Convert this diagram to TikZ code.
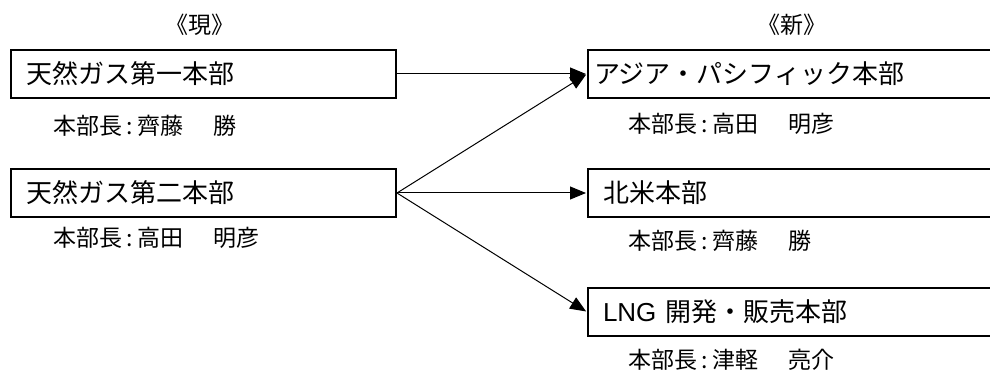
\documentclass[tikz,border=0pt]{standalone}
\usepackage{fontspec}
\usetikzlibrary{arrows.meta}
\newfontfamily\jp{Noto Sans CJK JP}
\newfontfamily\lat{Liberation Sans}
\newcommand{\colsep}{\kern4pt:\kern5pt}
\newcommand{\namesep}{\kern30pt}
\begin{document}
\begin{tikzpicture}[x=1pt,y=-1pt,
  box/.style={draw,line width=2pt,rectangle,anchor=north west,minimum height=48pt,
    align=left,inner ysep=0pt,font=\jp\fontsize{26}{30}\selectfont},
  lbox/.style={box,inner xsep=15pt,text width=355pt},
  rbox/.style={box,text width=430pt-2*#1,inner xsep=#1},
  lab/.style={anchor=west,inner sep=0pt,font=\jp\fontsize{23}{26}\selectfont},
  head/.style={inner sep=0pt,font=\jp\fontsize{23}{26}\selectfont},
  conn/.style={line width=1pt,-{Triangle[length=16pt,width=13pt]},shorten >=1pt}]
\useasboundingbox (0,0) rectangle (990,374);
\clip (0,0) rectangle (990,374);
\fill[white] (0,0) rectangle (990,374);
\node[head] (hgen) at (200,25) {《現》};
\node[head] (hnew) at (792,25) {《新》};
\node[lbox] (b1) at (10,49) {天然ガス第一本部};
\node[lbox] (b2) at (10,168) {天然ガス第二本部};
\node[rbox=6pt] (ra) at (587,49) {アジア・パシフィック本部};
\node[rbox=15pt] (rb) at (587,168) {北米本部};
\node[rbox=15pt] (rc) at (587,287) {{\lat LNG} 開発・販売本部};
\node[lab] (l1) at (53,126) {本部長\colsep 齊藤\namesep 勝};
\node[lab] (l2) at (53,238) {本部長\colsep 高田\namesep 明彦};
\node[lab] (la) at (628,124) {本部長\colsep 高田\namesep 明彦};
\node[lab] (lb) at (628,241) {本部長\colsep 齊藤\namesep 勝};
\node[lab] (lc) at (628,360) {本部長\colsep 津軽\namesep 亮介};
\draw[conn] (b1.east) -- (ra.west);
\draw[conn] (b2.east) -- (ra.west);
\draw[conn] (b2.east) -- (rb.west);
\draw[conn] (b2.east) -- (rc.west);
\end{tikzpicture}
\end{document}
